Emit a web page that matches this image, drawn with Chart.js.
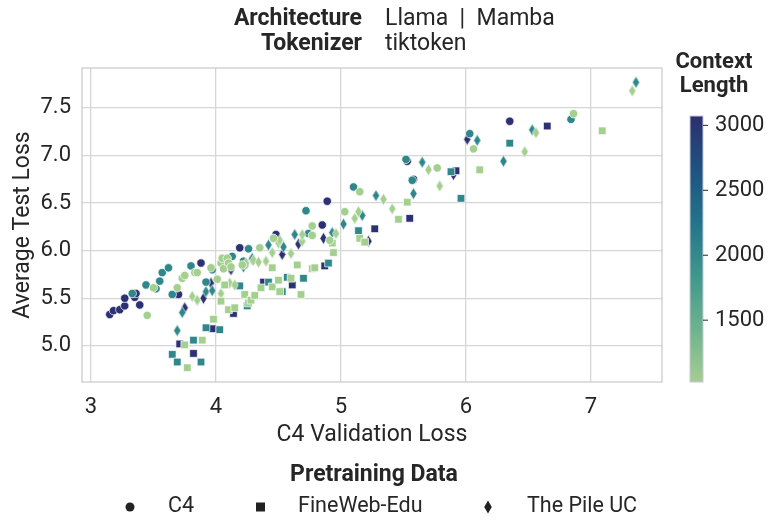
<!DOCTYPE html>
<html>
<head>
<meta charset="utf-8">
<script src="https://cdn.jsdelivr.net/npm/chart.js@4.4.0/dist/chart.umd.min.js"></script>
<style>
  html, body { margin: 0; padding: 0; background: #fff; }
</style>
</head>
<body>
<canvas id="chart" width="769" height="522"></canvas>
<script>
const xTicks = [3, 4, 5, 6, 7];
const yTicks = [5.0, 5.5, 6.0, 6.5, 7.0, 7.5];
const contextLengths = [1024, 2048, 3072];
const colorbarTicks = [1500, 2000, 2500, 3000];
const pretrainingData = ['C4', 'FineWeb-Edu', 'The Pile UC'];

// [C4 validation loss, average test loss]
const c4_1024 = [[3.45,5.32],[3.50,5.61],[3.69,5.61],[3.73,5.71],[3.75,5.74],[3.83,5.77],[3.85,5.77],[3.96,5.82],[4.01,5.70],[4.04,5.87],[4.05,5.92],[4.06,5.81],[4.09,5.92],[4.10,5.87],[4.12,5.83],[4.21,5.85],[4.35,6.03],[4.46,6.13],[4.77,6.26],[4.77,6.16],[4.91,6.11],[5.03,6.41],[5.15,6.62],[5.77,6.87],[6.06,7.07],[6.86,7.44]];
const c4_2048 = [[3.33,5.55],[3.44,5.64],[3.52,5.60],[3.55,5.68],[3.57,5.77],[3.62,5.82],[3.65,5.54],[3.80,5.84],[3.92,5.67],[3.97,5.80],[4.13,5.94],[4.22,5.89],[4.23,5.85],[4.26,6.02],[4.72,6.42],[4.74,6.18],[5.10,6.67],[5.52,6.96],[5.57,6.74],[6.03,7.23],[6.84,7.38]];
const c4_3072 = [[3.15,5.33],[3.18,5.37],[3.23,5.38],[3.27,5.42],[3.27,5.50],[3.35,5.51],[3.36,5.55],[3.39,5.43],[3.70,5.54],[3.88,5.87],[4.19,6.03],[4.48,6.17],[4.85,6.27],[4.89,6.52],[5.53,6.94],[5.58,6.75],[6.35,7.36]];

const fineweb_1024 = [[3.77,4.77],[3.75,5.01],[3.89,5.06],[3.98,5.28],[4.04,5.47],[4.07,5.64],[4.10,5.38],[4.15,5.40],[4.23,5.54],[4.26,5.45],[4.28,5.48],[4.31,5.53],[4.36,5.61],[4.45,5.62],[4.45,5.82],[4.50,5.69],[4.51,5.57],[4.60,5.71],[4.65,5.85],[4.68,5.54],[4.77,5.81],[4.79,5.82],[4.93,6.08],[4.94,5.98],[5.15,6.13],[5.19,6.09],[5.46,6.33],[5.53,6.51],[6.11,6.85],[7.09,7.26]];
const fineweb_2048 = [[3.65,4.91],[3.69,4.83],[3.82,5.06],[3.88,4.83],[3.92,5.19],[4.03,5.17],[4.19,5.63],[4.25,5.42],[4.42,5.67],[4.53,5.57],[4.57,5.72],[4.70,5.71],[4.90,5.87],[5.14,6.21],[5.88,6.83],[5.96,6.55],[6.35,7.13]];
const fineweb_3072 = [[3.71,5.02],[3.82,4.92],[3.97,5.18],[4.14,5.34],[4.38,5.67],[4.61,5.64],[4.87,5.84],[5.27,6.23],[5.55,6.34],[5.92,6.84],[6.65,7.31]];

const pile_1024 = [[3.81,5.52],[3.85,5.48],[4.04,5.55],[4.11,5.66],[4.15,5.64],[4.24,5.87],[4.30,5.90],[4.34,5.88],[4.40,5.89],[4.45,5.98],[4.50,6.08],[4.51,6.11],[4.60,5.97],[4.69,6.10],[4.69,6.17],[4.96,6.18],[5.11,6.34],[5.14,6.41],[5.34,6.54],[5.41,6.44],[5.70,6.85],[5.79,6.68],[6.47,7.04],[6.56,7.24],[7.33,7.68]];
const pile_2048 = [[3.69,5.16],[3.73,5.35],[3.92,5.57],[3.97,5.58],[4.22,5.83],[4.29,5.92],[4.42,6.06],[4.54,6.04],[4.63,6.17],[4.93,6.19],[5.02,6.28],[5.17,6.37],[5.28,6.58],[5.58,6.60],[5.65,6.93],[6.09,7.16],[6.30,6.94],[6.53,7.27],[7.36,7.77]];
const pile_3072 = [[3.75,5.40],[3.90,5.50],[3.96,5.66],[4.12,5.80],[4.29,5.91],[4.53,5.96],[4.66,6.07],[4.86,6.13],[5.22,6.10],[5.90,6.80],[6.01,7.17],[6.85,7.41]];

const colors = { 1024: '#a3cf8f', 2048: '#2f878b', 3072: '#2b3172' };
const textColor = '#262626';
const fontFamily = 'Roboto';

// thin diamond like matplotlib 'd'
function thinDiamond(color) {
    let c = document.createElement('canvas');
    c.width = 9; c.height = 13;
    let g = c.getContext('2d');
    g.beginPath();
    g.moveTo(4.5, 0.6); g.lineTo(8.1, 6.5); g.lineTo(4.5, 12.4); g.lineTo(0.9, 6.5);
    g.closePath();
    g.fillStyle = color; g.fill();
    g.strokeStyle = '#fff'; g.lineWidth = 0.6; g.stroke();
    return c;
}

function makeSet(label, points, ctxLen, shape) {
    let color = colors[ctxLen];
    let ds = {
        label: label + ' ' + ctxLen,
        data: points.map(p => ({ x: p[0], y: p[1] })),
        backgroundColor: color,
        borderColor: '#ffffff',
        borderWidth: 0.7
    };
    if (shape === 'circle') { ds.pointStyle = 'circle'; ds.pointRadius = 4.2; }
    if (shape === 'rect') { ds.pointStyle = 'rect'; ds.pointRadius = 5.4; }
    if (shape === 'diamond') { ds.pointStyle = thinDiamond(color); ds.pointRadius = 4; }
    return ds;
}

const datasets = [
    makeSet('C4', c4_1024, 1024, 'circle'),
    makeSet('FineWeb-Edu', fineweb_1024, 1024, 'rect'),
    makeSet('The Pile UC', pile_1024, 1024, 'diamond'),
    makeSet('C4', c4_2048, 2048, 'circle'),
    makeSet('FineWeb-Edu', fineweb_2048, 2048, 'rect'),
    makeSet('The Pile UC', pile_2048, 2048, 'diamond'),
    makeSet('C4', c4_3072, 3072, 'circle'),
    makeSet('FineWeb-Edu', fineweb_3072, 3072, 'rect'),
    makeSet('The Pile UC', pile_3072, 3072, 'diamond')
];

// frame around plot area
const framePlugin = {
    id: 'frame',
    beforeDatasetsDraw(chart) {
        let a = chart.chartArea, ctx = chart.ctx;
        ctx.save();
        ctx.strokeStyle = '#cccccc';
        ctx.lineWidth = 1.3;
        ctx.strokeRect(a.left, a.top, a.right - a.left, a.bottom - a.top);
        ctx.restore();
    }
};

// header, colorbar, legend
const extrasPlugin = {
    id: 'extras',
    afterDraw(chart) {
        let ctx = chart.ctx;
        ctx.save();
        ctx.fillStyle = textColor;
        ctx.textBaseline = 'middle';

        // header
        ctx.font = 'bold 23px ' + fontFamily;
        ctx.textAlign = 'right';
        ctx.fillText('Architecture', 362, 19);
        ctx.fillText('Tokenizer', 362, 44);
        ctx.font = '23px ' + fontFamily;
        ctx.textAlign = 'left';
        ctx.fillText('Llama  |  Mamba', 385, 19);
        ctx.fillText('tiktoken', 385, 44);

        // colorbar
        let cbX = 690, cbW = 13, cbTop = 116, cbBottom = 382;
        let lo = contextLengths[0], hi = contextLengths[contextLengths.length - 1];
        let grad = ctx.createLinearGradient(0, cbBottom, 0, cbTop);
        grad.addColorStop(0.0, '#a5cd90');
        grad.addColorStop(0.2, '#6db38e');
        grad.addColorStop(0.4, '#3f978c');
        grad.addColorStop(0.6, '#22748a');
        grad.addColorStop(0.8, '#1f5283');
        grad.addColorStop(1.0, '#2c2f6e');
        ctx.fillStyle = grad;
        ctx.fillRect(cbX, cbTop, cbW, cbBottom - cbTop);
        ctx.strokeStyle = '#c8c8d8';
        ctx.lineWidth = 1;
        ctx.strokeRect(cbX, cbTop, cbW, cbBottom - cbTop);

        ctx.fillStyle = textColor;
        ctx.strokeStyle = textColor;
        ctx.font = '22px ' + fontFamily;
        ctx.textAlign = 'left';
        colorbarTicks.forEach(v => {
            let y = cbBottom - (v - lo) / (hi - lo) * (cbBottom - cbTop);
            ctx.beginPath();
            ctx.moveTo(cbX + cbW, y); ctx.lineTo(cbX + cbW + 5, y);
            ctx.stroke();
            ctx.fillText(String(v), cbX + cbW + 12, y);
        });

        ctx.font = 'bold 22px ' + fontFamily;
        ctx.textAlign = 'center';
        ctx.fillText('Context', 714, 62);
        ctx.fillText('Length', 714, 86);

        // legend
        ctx.font = 'bold 23px ' + fontFamily;
        ctx.fillText('Pretraining Data', 374, 475);
        ctx.font = '21.5px ' + fontFamily;
        ctx.textAlign = 'left';
        let ly = 507;
        ctx.fillStyle = '#222';
        ctx.beginPath(); ctx.arc(130, ly, 4.5, 0, Math.PI * 2); ctx.fill();
        ctx.fillRect(256, ly - 4.5, 9, 9);
        ctx.beginPath();
        ctx.moveTo(488, ly - 6.5); ctx.lineTo(491.8, ly); ctx.lineTo(488, ly + 6.5); ctx.lineTo(484.2, ly);
        ctx.closePath(); ctx.fill();
        ctx.fillStyle = textColor;
        ctx.fillText(pretrainingData[0], 168, ly);
        ctx.fillText(pretrainingData[1], 298, ly);
        ctx.fillText(pretrainingData[2], 527, ly);
        ctx.restore();
    }
};

new Chart(document.getElementById('chart').getContext('2d'), {
    type: 'scatter',
    data: { datasets: datasets },
    options: {
        responsive: false,
        animation: false,
        layout: { padding: { top: 68, right: 107, bottom: 73, left: 0 } },
        plugins: {
            legend: { display: false },
            tooltip: { enabled: false }
        },
        scales: {
            x: {
                type: 'linear',
                min: 2.928,
                max: 7.568,
                afterFit: function(scale) { scale.height = 67; },
                afterBuildTicks: function(scale) { scale.ticks = xTicks.map(v => ({ value: v })); },
                grid: { color: '#d6d6d6', lineWidth: 1.3, drawTicks: false },
                border: { display: false },
                ticks: {
                    padding: 12,
                    color: textColor,
                    font: { family: fontFamily, size: 22 },
                    callback: v => String(v)
                },
                title: {
                    display: true,
                    text: 'C4 Validation Loss',
                    color: textColor,
                    font: { family: fontFamily, size: 23 },
                    padding: { top: 0, bottom: 0 }
                }
            },
            y: {
                type: 'linear',
                min: 4.62,
                max: 7.92,
                afterFit: function(scale) { scale.width = 82; },
                afterBuildTicks: function(scale) { scale.ticks = yTicks.map(v => ({ value: v })); },
                grid: { color: '#d6d6d6', lineWidth: 1.3, drawTicks: false },
                border: { display: false },
                ticks: {
                    padding: 11,
                    color: textColor,
                    font: { family: fontFamily, size: 22 },
                    callback: v => Number(v).toFixed(1)
                },
                title: {
                    display: true,
                    text: 'Average Test Loss',
                    color: textColor,
                    font: { family: fontFamily, size: 23 },
                    padding: { top: 9, bottom: 0 }
                }
            }
        }
    },
    plugins: [framePlugin, extrasPlugin]
});
</script>
</body>
</html>
